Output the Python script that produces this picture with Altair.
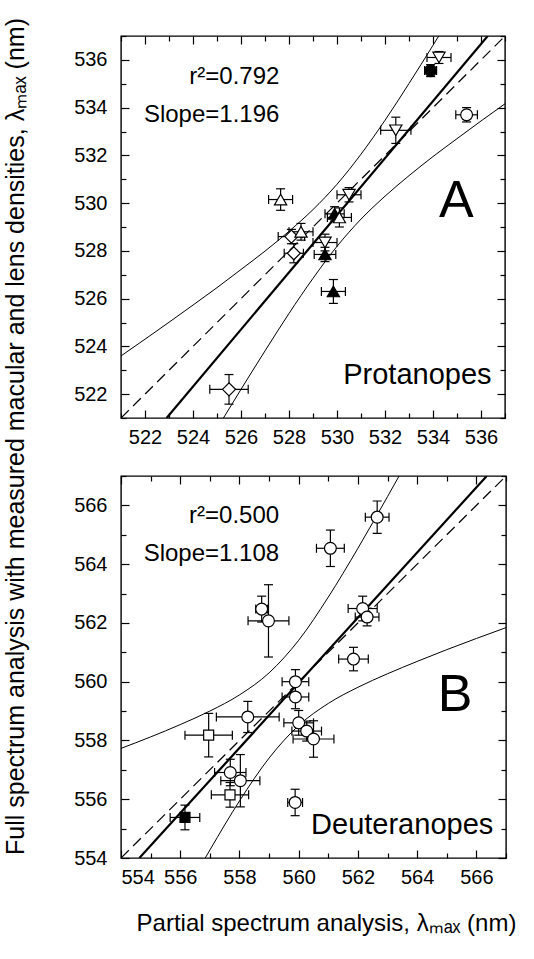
import altair as alt
import pandas as pd

FONT = "Liberation Sans"

# ---------------- Panel A : Protanopes ----------------
a_x = [527.65, 534.25, 533.90, 535.40, 532.45, 530.50, 529.90, 530.10, 528.50, 528.10, 528.20, 529.50, 529.50, 529.85, 525.50]
a_y = [530.15, 536.10, 535.55, 533.70, 533.05, 530.35, 529.55, 529.40, 528.80, 528.60, 527.90, 528.35, 527.85, 526.30, 522.20]
a_xerr = [0.50, 0.50, 0.25, 0.45, 0.63, 0.50, 0.40, 0.50, 0.50, 0.55, 0.40, 0.50, 0.45, 0.50, 0.80]
a_yerr = [0.45, 0.25, 0.25, 0.30, 0.55, 0.30, 0.30, 0.40, 0.35, 0.30, 0.40, 0.35, 0.30, 0.50, 0.62]
a_shape = ["triangle-up", "triangle-down", "circle", "circle", "triangle-down", "triangle-down",
           "triangle-up", "triangle-up", "triangle-up", "diamond", "diamond", "triangle-down",
           "triangle-up", "triangle-up", "diamond"]
a_solid = [False, False, True, False, False, False, True, False, False, False, False, False, True, True, False]

a_band_x = [521, 522, 523, 524, 525, 526, 527, 528, 529, 530, 531, 532, 533, 534, 535, 536, 537]
a_band_upper = [523.60, 524.30, 525.01, 525.73, 526.46, 527.22, 527.99, 528.82, 529.73, 530.79,
                532.05, 533.47, 535.01, 536.61, 538.24, 539.90, 541.56]
a_band_lower = [513.86, 515.54, 517.23, 518.89, 520.56, 522.20, 523.81, 525.38, 526.85, 528.19,
                529.33, 530.29, 531.15, 531.95, 532.70, 533.44, 534.16]
a_fit_x = [522.90, 536.28]
a_fit_y = [521.00, 537.00]
a_ident = [521, 537]
a_major = [522, 524, 526, 528, 530, 532, 534, 536]
a_minor = [521, 523, 525, 527, 529, 531, 533, 535, 537]
a_texts = ["r\u00b2=0.792", "Slope=1.196", "A", "Protanopes"]

# ---------------- Panel B : Deuteranopes ----------------
b_x = [558.75, 558.98, 562.65, 561.07, 562.16, 562.31, 561.85, 559.89, 559.89, 558.28,
       556.96, 560.00, 560.27, 560.50, 557.69, 558.03, 557.68, 559.88, 556.16]
b_y = [562.47, 562.07, 565.60, 564.54, 562.49, 562.20, 560.77, 560.00, 559.48, 558.80,
       558.18, 558.60, 558.32, 558.05, 556.91, 556.63, 556.15, 555.89, 555.38]
b_xerr = [0.20, 0.69, 0.40, 0.47, 0.49, 0.40, 0.50, 0.45, 0.45, 1.06,
          0.80, 0.50, 0.50, 0.69, 0.53, 0.66, 0.63, 0.25, 0.50]
b_yerr = [0.44, 1.23, 0.55, 0.62, 0.42, 0.30, 0.40, 0.41, 0.40, 0.53,
          0.74, 0.42, 0.34, 0.62, 0.45, 0.89, 0.42, 0.45, 0.42]
b_shape = ["circle"] * 10 + ["square"] + ["circle"] * 5 + ["square", "circle", "square"]
b_solid = [False] * 18 + [True]

b_band_x = [554, 555, 556, 557, 558, 559, 560, 561, 562, 563, 564, 565, 566, 567]
b_band_upper = [557.73, 558.12, 558.54, 559.00, 559.55, 560.30, 561.41, 562.88, 564.54, 566.30,
                568.10, 569.92, 571.75, 573.60]
b_band_lower = [548.90, 550.72, 552.52, 554.27, 555.94, 557.40, 558.51, 559.26, 559.81, 560.27,
                560.69, 561.09, 561.47, 561.84]
b_fit_x = [554.62, 566.35]
b_fit_y = [554.00, 567.00]
b_ident = [554, 567]
b_major = [554, 556, 558, 560, 562, 564, 566]
b_minor = [555, 557, 559, 561, 563, 565, 567]
b_texts = ["r\u00b2=0.500", "Slope=1.108", "B", "Deuteranopes"]

x_title = "Partial spectrum analysis, \u03bb\u2098\u2090\u2093 (nm)"
y_title = "Full spectrum analysis with measured macular and lens densities, \u03bb\u2098\u2090\u2093 (nm)"

MARKER_SIZE = {"triangle-up": 150, "triangle-down": 150, "diamond": 170, "circle": 140, "square": 100}


def axis(orient, vals, size, labels, **kw):
    return alt.Axis(orient=orient, values=vals, tickSize=size, offset=-size, domain=False,
                    grid=False, labels=labels, tickColor="black", tickWidth=1.2,
                    labelFont=FONT, labelFontSize=20, labelColor="black", **kw)


def make_panel(xs, ys, xe, ye, shp, solid, bx, bu, bl, fx, fy, ident, major, minor, dom,
               w, h, texts, tpos, bottom_title=None, left_title=None):
    df = pd.DataFrame({"x": xs, "y": ys, "xe": xe, "ye": ye, "shape": shp, "solid": solid})
    df["xlo"] = df["x"] - df["xe"]
    df["xhi"] = df["x"] + df["xe"]
    df["ylo"] = df["y"] - df["ye"]
    df["yhi"] = df["y"] + df["ye"]
    band = pd.DataFrame({"x": bx, "upper": bu, "lower": bl})
    fit = pd.DataFrame({"x": fx, "y": fy})
    idf = pd.DataFrame({"x": ident, "y": ident})
    sc = alt.Scale(domain=dom, nice=False, zero=False)

    if bottom_title:
        bkw = dict(title=bottom_title, titleFont=FONT, titleFontSize=24, titleFontWeight="normal",
                   titleColor="black", titlePadding=24, titleX=205)
    else:
        bkw = dict(title=None)
    if left_title:
        lkw = dict(title=left_title, titleFont=FONT, titleFontSize=25,
                   titleFontWeight="normal", titleColor="black", titleY=400, titleX=-106,
                   titleBaseline="alphabetic", titleAngle=270)
    else:
        lkw = dict(title=None)

    upper = alt.Chart(band).mark_line(color="black", strokeWidth=1.0, clip=True, interpolate="monotone").encode(
        x=alt.X("x:Q", scale=sc, axis=axis("bottom", major, 8, True, labelPadding=9, **bkw)),
        y=alt.Y("upper:Q", scale=sc, axis=axis("left", major, 8, True, labelPadding=14, **lkw)),
    )
    lower = alt.Chart(band).mark_line(color="black", strokeWidth=1.0, clip=True, interpolate="monotone").encode(
        x=alt.X("x:Q", scale=sc, axis=axis("bottom", minor, 5, False, title=None)),
        y=alt.Y("lower:Q", scale=sc, axis=axis("left", minor, 5, False, title=None)),
    )
    identity = alt.Chart(idf).mark_line(color="black", strokeWidth=1.2, strokeDash=[11, 6], clip=True).encode(
        x=alt.X("x:Q", scale=sc, axis=axis("top", major, 8, False, title=None)),
        y=alt.Y("y:Q", scale=sc, axis=axis("right", major, 8, False, title=None)),
    )
    fitline = alt.Chart(fit).mark_line(color="black", strokeWidth=2.2, clip=True).encode(
        x=alt.X("x:Q", scale=sc, axis=axis("top", minor, 5, False, title=None)),
        y=alt.Y("y:Q", scale=sc, axis=axis("right", minor, 5, False, title=None)),
    )
    base = alt.Chart(df)
    xq = lambda f: alt.X(f, type="quantitative", scale=sc, axis=None)
    yq = lambda f: alt.Y(f, type="quantitative", scale=sc, axis=None)
    ebx = base.mark_rule(color="black", strokeWidth=1.2).encode(x=xq("xlo"), x2="xhi:Q", y=yq("y"))
    eby = base.mark_rule(color="black", strokeWidth=1.2).encode(x=xq("x"), y=yq("ylo"), y2="yhi:Q")
    caps = []
    for f in ["xlo", "xhi"]:
        caps.append(base.mark_tick(color="black", orient="vertical", size=9, thickness=1.2, opacity=1)
                    .encode(x=xq(f), y=yq("y")))
    for f in ["ylo", "yhi"]:
        caps.append(base.mark_tick(color="black", orient="horizontal", size=9, thickness=1.2, opacity=1)
                    .encode(x=xq("x"), y=yq(f)))
    pts = []
    for s in sorted(set(shp)):
        pts.append(
            base.transform_filter(alt.datum.shape == s)
            .mark_point(shape=s, size=MARKER_SIZE[s], filled=True, stroke="black", strokeWidth=1.2, opacity=1)
            .encode(x=xq("x"), y=yq("y"),
                    fill=alt.condition(alt.datum.solid, alt.value("black"), alt.value("white")))
        )
    txt_layers = []
    for t, (tx, ty, al, fs) in zip(texts, tpos):
        txt_layers.append(
            alt.Chart(pd.DataFrame({"t": [t]})).mark_text(
                align=al, baseline="alphabetic", font=FONT, fontSize=fs, color="black"
            ).encode(x=alt.XDatum(tx, axis=None, scale=sc), y=alt.YDatum(ty, axis=None, scale=sc), text="t:N")
        )
    layer = alt.layer(upper, lower, identity, fitline, ebx, eby, *caps, *pts, *txt_layers).resolve_axis(
        x="independent", y="independent").properties(width=w, height=h)
    return layer


a_tpos = [(527.6, 535.0, "right", 24), (527.6, 533.4, "right", 24), (534.97, 529.42, "center", 52),
          (536.44, 522.42, "right", 29)]
b_tpos = [(559.34, 565.41, "right", 24), (559.34, 564.11, "right", 24), (565.28, 559.0, "center", 52),
          (566.57, 554.82, "right", 29)]

panelA = make_panel(a_x, a_y, a_xerr, a_yerr, a_shape, a_solid, a_band_x, a_band_upper, a_band_lower,
                    a_fit_x, a_fit_y, a_ident, a_major, a_minor, [521, 537], 384, 382, a_texts, a_tpos,
                    left_title=y_title)
panelB = make_panel(b_x, b_y, b_xerr, b_yerr, b_shape, b_solid, b_band_x, b_band_upper, b_band_lower,
                    b_fit_x, b_fit_y, b_ident, b_major, b_minor, [554, 567], 385, 382, b_texts, b_tpos,
                    bottom_title=x_title)

chart = alt.vconcat(panelA, panelB, spacing=58, bounds="flush").configure_view(
    stroke="black", strokeWidth=1.4).properties(padding={"left": 2, "top": 16, "right": 5, "bottom": 5},
                                                background="white")

chart.save("out.html", embed_options={"renderer": "svg", "actions": False})
